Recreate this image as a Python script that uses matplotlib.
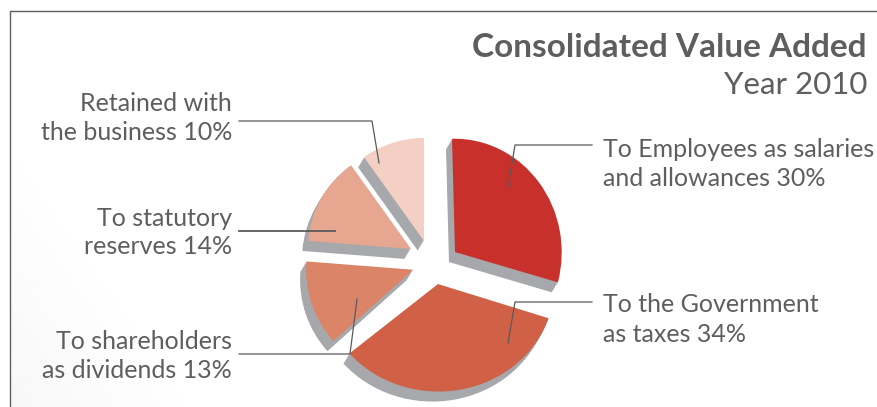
import matplotlib
matplotlib.use("Agg")
import matplotlib.pyplot as plt
from matplotlib.transforms import Affine2D
import numpy as np

shares = [30, 34, 13, 14, 10]
title = "Consolidated Value Added"
subtitle = "Year 2010"
label_right = [["To Employees as salaries", "and allowances 30%"],
               ["To the Government", "as taxes 34%"]]
label_left = [["To shareholders", "as dividends 13%"],
              ["To statutory", "reserves 14%"],
              ["Retained with", "the business 10%"]]

colors = ["#C8302B", "#D06046", "#DC8468", "#E7A68F", "#F3D0C3"]
shadow = "#A7A8AB"
text_c = "#5E5E60"
explode = [28, 20, 21, 26, 24]
radii = [110, 112, 107, 103, 103]
scale_x = [0.97, 1.04, 1.0, 1.0, 1.0]
scale_y = [1.03, 0.96, 1.0, 1.0, 1.0]
tilt = [1.5, -1.5, 0, 0, 0]
nudge_x = [-0.5, 0.7, 0, 0.7, -1.6]
nudge_y = [-5.7, -1.5, 0, 1.3, -0.8]
H = 407
Y = lambda y: H - y

plt.rcParams["font.family"] = ["Lato", "DejaVu Sans"]
fig = plt.figure(figsize=(8.77, 4.07), dpi=100)
ax = fig.add_axes([0, 0, 1, 1])


def layer(dx, dy, cols, z):
    wedges, _ = ax.pie(shares, colors=cols, startangle=90, counterclock=False,
                       explode=explode, center=(433 + dx, Y(263) + dy),
                       radius=100, frame=True,
                       wedgeprops=dict(linewidth=0, zorder=z))
    for i, w in enumerate(wedges):
        w.set_radius(radii[i])
        w.set_zorder(z)
        cx, cy = w.center
        w.set_transform(Affine2D().translate(-cx, -cy)
                        .scale(scale_x[i], scale_y[i]).rotate_deg(tilt[i])
                        .translate(cx + nudge_x[i], cy + nudge_y[i]) + ax.transData)


for k in range(10, 0, -1):
    layer(-0.6 * k, -1.0 * k, [shadow] * len(shares), 1)
layer(0, 0, colors, 2)

ax.set_xticks([])
ax.set_yticks([])
for s in ax.spines.values():
    s.set_visible(False)

# very faint background shade towards the lower left
gx, gy = np.meshgrid(np.linspace(0, 1, 120), np.linspace(0, 1, 60))
shade = np.clip(1.0 - (gx * 1.6 + gy * 0.9), 0, 1)
ax.imshow(1.0 - 0.03 * shade, extent=(10, 330, Y(407), Y(150)), origin="lower",
          cmap="gray", vmin=0, vmax=1, aspect="auto", zorder=0,
          interpolation="bilinear")
ax.set_aspect("auto")
ax.set_xlim(0, 877)
ax.set_ylim(0, 407)

# frame
ax.plot([10, 10, 877], [Y(407), Y(11), Y(11)], color="#606062", lw=1.0, zorder=3)

# leader lines
lc = "#5A5A5C"
leaders = [([592, 515, 508], [145, 145, 187], 0.9),
           ([592, 515, 508], [302, 302, 343], 0.9),
           ([239, 350, 357], [354, 354, 299], 0.9),
           ([239, 335], [231, 231], 1.3),
           ([239, 372, 379], [121, 121, 163], 0.9)]
for xs, ys, lw in leaders:
    ax.plot(xs, [Y(v) for v in ys], color=lc, lw=lw, zorder=4)

# text
fs = 18.0
ax.text(867, Y(57), title, ha="right", va="baseline", fontsize=24.0,
        fontweight="bold", color=text_c)
ax.text(867, Y(94), subtitle, ha="right", va="baseline", fontsize=22.5,
        fontweight="normal", color=text_c)
for lines, (b1, b2) in zip(label_right, [(157, 186), (312, 342)]):
    ax.text(603, Y(b1), lines[0], ha="left", va="baseline", fontsize=fs, color=text_c)
    ax.text(603, Y(b2), lines[1], ha="left", va="baseline", fontsize=fs, color=text_c)
for lines, (b1, b2) in zip(label_left, [(349, 378), (226, 254), (111, 140)]):
    ax.text(232, Y(b1), lines[0], ha="right", va="baseline", fontsize=fs, color=text_c)
    ax.text(232, Y(b2), lines[1], ha="right", va="baseline", fontsize=fs, color=text_c)

fig.savefig("out.png", dpi=100, facecolor="white")
